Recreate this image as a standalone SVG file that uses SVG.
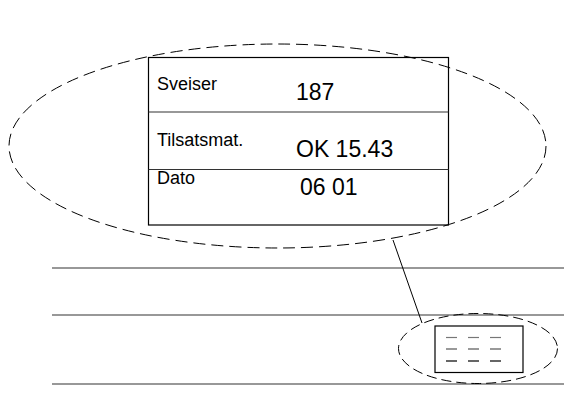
<svg xmlns="http://www.w3.org/2000/svg" width="567" height="403" viewBox="0 0 567 403">
<style>
.dash{fill:none;stroke:#000;stroke-width:1;stroke-dasharray:12 6}
.line{stroke:#333;stroke-width:1.2;fill:none}
.lbl{font-family:"Liberation Sans",Arial,sans-serif;font-size:18px;fill:#000}
.val{font-family:"Liberation Sans",Arial,sans-serif;font-size:23px;fill:#000}
</style>
<rect width="567" height="403" fill="#fff"/>
<g id="rails">
<line class="line" x1="52" y1="268" x2="564" y2="268"/>
<line class="line" x1="52" y1="315" x2="564" y2="315"/>
<line class="line" x1="52" y1="384" x2="564" y2="384"/>
</g>
<g id="connectors">
<line x1="393" y1="240" x2="422" y2="323" stroke="#000" stroke-width="1"/>
</g>
<g id="detail-ellipse">
<ellipse class="dash" cx="277.5" cy="146" rx="268.5" ry="102"/>
</g>
<g id="label-table">
<rect x="148.5" y="57.5" width="300" height="167.5" fill="none" stroke="#000" stroke-width="1.2"/>
<line class="line" x1="148.5" y1="112" x2="448.5" y2="112"/>
<line class="line" x1="148.5" y1="169.5" x2="448.5" y2="169.5"/>
<text class="lbl" x="157" y="90">Sveiser</text>
<text class="val" x="296" y="100">187</text>
<text class="lbl" x="157" y="146">Tilsatsmat.</text>
<text class="val" x="296" y="157">OK 15.43</text>
<text class="lbl" x="157" y="184">Dato</text>
<text class="val" x="300" y="195">06 01</text>
</g>
<g id="small-ellipse">
<ellipse class="dash" cx="478" cy="348.5" rx="79.5" ry="35" style="stroke-dasharray:10 5"/>
</g>
<g id="small-label">
<rect x="435" y="326" width="88" height="46.5" fill="none" stroke="#000" stroke-width="1.2"/>
<g stroke-width="1.2">
<line x1="446" y1="337.5" x2="457" y2="337.5" stroke="#777"/>
<line x1="468" y1="337.5" x2="479" y2="337.5" stroke="#777"/>
<line x1="490" y1="337.5" x2="501" y2="337.5" stroke="#777"/>
<line x1="446" y1="349" x2="457" y2="349" stroke="#555"/>
<line x1="468" y1="349" x2="479" y2="349" stroke="#555"/>
<line x1="490" y1="349" x2="501" y2="349" stroke="#555"/>
<line x1="446" y1="361" x2="457" y2="361" stroke="#000"/>
<line x1="468" y1="361" x2="479" y2="361" stroke="#000"/>
<line x1="490" y1="361" x2="501" y2="361" stroke="#000"/>
</g>
</g>
</svg>
